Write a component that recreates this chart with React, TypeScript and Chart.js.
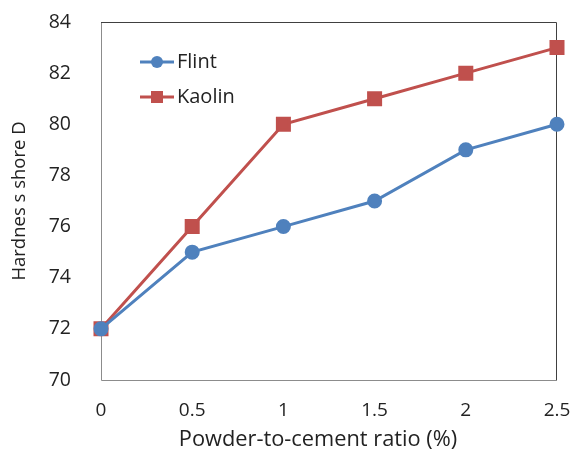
import React, { useEffect, useRef } from "react";
import { Chart, registerables } from "chart.js";

Chart.register(...registerables);

const categories = ["0", "0.5", "1", "1.5", "2", "2.5"];
const flintValues = [72, 75, 76, 77, 79, 80];
const kaolinValues = [72, 76, 80, 81, 82, 83];
const seriesNames = ["Flint", "Kaolin"];
const xTitle = "Powder-to-cement ratio (%)";
const yTitle = "Hardnes s shore D";

const FONT = "'Open Sans', 'Liberation Sans', sans-serif";
const BLUE = "#4F81BD";
const RED = "#C0504D";

const framePlugin = {
  id: "frame",
  beforeDatasetsDraw(chart: any) {
    const { ctx, chartArea: a } = chart;
    ctx.save();
    ctx.lineWidth = 1;
    ctx.strokeStyle = "#8c8c8c";
    ctx.beginPath();
    ctx.moveTo(a.left + 0.5, a.top);
    ctx.lineTo(a.left + 0.5, a.bottom + 0.5);
    ctx.lineTo(a.right, a.bottom + 0.5);
    ctx.stroke();
    ctx.strokeStyle = "#404040";
    ctx.beginPath();
    ctx.moveTo(a.left, a.top + 0.5);
    ctx.lineTo(a.right - 0.5, a.top + 0.5);
    ctx.lineTo(a.right - 0.5, a.bottom);
    ctx.stroke();
    ctx.restore();
  },
};

const xTitlePlugin = {
  id: "xTitle",
  afterDraw(chart: any) {
    const { ctx, height, chartArea: a } = chart;
    ctx.save();
    ctx.fillStyle = "#222";
    ctx.font = `21.8px ${FONT}`;
    ctx.textAlign = "center";
    ctx.textBaseline = "middle";
    ctx.fillText(xTitle, (a.left + a.right) / 2 - 11, height - 13);
    ctx.restore();
  },
};

const legendPlugin = {
  id: "innerLegend",
  afterDatasetsDraw(chart: any) {
    const { ctx, chartArea: a } = chart;
    ctx.save();
    chart.data.datasets.forEach((ds: any, i: number) => {
      const y = a.top + 40 + i * 35;
      const x0 = a.left + 39;
      const x1 = x0 + 34;
      ctx.strokeStyle = ds.borderColor;
      ctx.lineWidth = 3;
      ctx.beginPath();
      ctx.moveTo(x0, y);
      ctx.lineTo(x1, y);
      ctx.stroke();
      ctx.fillStyle = ds.borderColor;
      const cx = (x0 + x1) / 2;
      if (ds.pointStyle === "rect") {
        ctx.fillRect(cx - 6, y - 6, 12, 12);
      } else {
        ctx.beginPath();
        ctx.arc(cx, y, 6, 0, Math.PI * 2);
        ctx.fill();
      }
      ctx.fillStyle = "#222";
      ctx.font = `20px ${FONT}`;
      ctx.textBaseline = "middle";
      ctx.textAlign = "left";
      ctx.fillText(ds.label, x1 + 3, y);
    });
    ctx.restore();
  },
};

export default function App() {
  const ref = useRef<HTMLCanvasElement>(null);
  useEffect(() => {
    document.body.style.margin = "0";
    const chart = new Chart(ref.current!, {
      type: "line",
      data: {
        labels: categories,
        datasets: [
          {
            label: seriesNames[0],
            data: flintValues,
            borderColor: BLUE,
            backgroundColor: BLUE,
            borderWidth: 3,
            pointStyle: "circle",
            pointRadius: 6,
            pointHoverRadius: 6,
          },
          {
            label: seriesNames[1],
            data: kaolinValues,
            borderColor: RED,
            backgroundColor: RED,
            borderWidth: 3,
            pointStyle: "rect",
            pointRadius: 8.5,
            pointHoverRadius: 8.5,
          },
        ],
      },
      plugins: [framePlugin, legendPlugin, xTitlePlugin],
      options: {
        animation: false,
        responsive: false,
        maintainAspectRatio: false,
        layout: { padding: { top: 22, right: 14, left: 0, bottom: 0 } },
        plugins: { legend: { display: false }, tooltip: { enabled: false } },
        scales: {
          x: {
            offset: false,
            grid: { display: false },
            border: { display: false },
            ticks: { color: "#222", font: { family: FONT, size: 19 }, padding: 11, maxRotation: 0 },
            title: { display: false },
            afterFit(scale: any) {
              scale.height = 73;
              scale.paddingLeft = 0;
              scale.paddingRight = 0;
            },
          },
          y: {
            min: 70,
            max: 84,
            grid: { display: false },
            border: { display: false },
            ticks: { stepSize: 2, color: "#222", font: { family: FONT, size: 19.5 }, padding: 22 },
            title: {
              display: true,
              text: yTitle,
              color: "#222",
              font: { family: FONT, size: 18.5 },
              padding: { top: 9, bottom: 0 },
            },
            afterFit(scale: any) {
              scale.width = 101;
              scale.paddingTop = 0;
              scale.paddingBottom = 0;
            },
          },
        },
      },
    });
    return () => chart.destroy();
  }, []);
  return (
    <div style={{ width: 571, height: 453, background: "#fff" }}>
      <canvas ref={ref} width={571} height={453} style={{ width: 571, height: 453 }} />
    </div>
  );
}
